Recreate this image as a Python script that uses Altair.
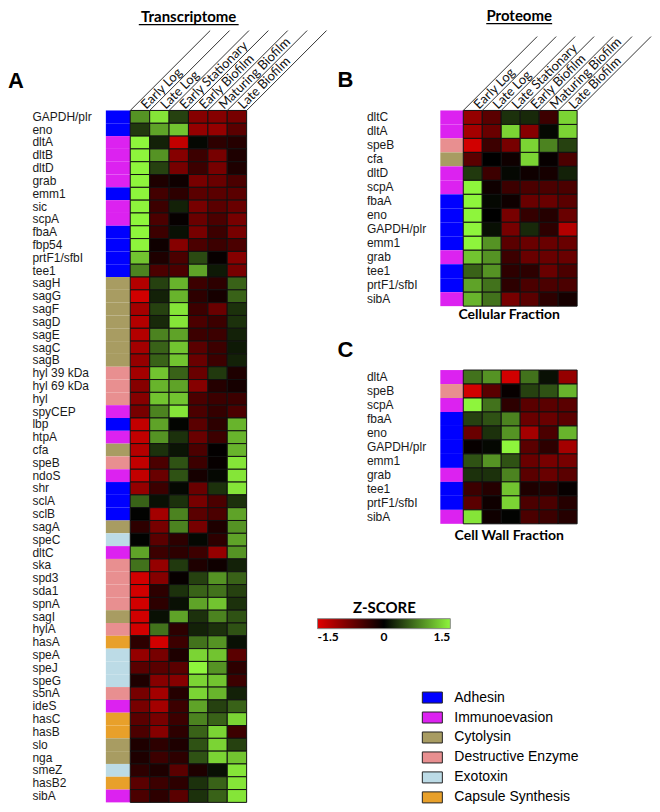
import altair as alt
import pandas as pd

# ---------------- data ----------------
conditions_T = ["Early Log", "Late Log", "Early Stationary", "Early Biofilm",
                "Maturing Biofilm", "Late Biofilm"]
conditions_P = ["Early Log", "Late Log", "Late Stationary", "Early Biofilm",
                "Maturing Biofilm", "Late Biofilm"]

categories = ["Adhesin", "Immunoevasion", "Cytolysin", "Destructive Enzyme",
              "Exotoxin", "Capsule Synthesis"]
category_colors = ["#0000ff", "#dc22f0", "#a89c62", "#e88f90", "#bcdbe6", "#e8a02a"]

# Panel A: transcriptome
genes_A = ["GAPDH/plr", "eno", "dltA", "dltB", "dltD", "grab", "emm1", "sic", "scpA",
           "fbaA", "fbp54", "prtF1/sfbI", "tee1", "sagH", "sagG", "sagF", "sagD", "sagE",
           "sagC", "sagB", "hyl 39 kDa", "hyl 69 kDa", "hyl", "spyCEP", "lbp", "htpA",
           "cfa", "speB", "ndoS", "shr", "sclA", "sclB", "sagA", "speC", "dltC", "ska",
           "spd3", "sda1", "spnA", "sagI", "hylA", "hasA", "speA", "speJ", "speG", "s5nA",
           "ideS", "hasC", "hasB", "slo", "nga", "smeZ", "hasB2", "sibA"]
cat_A = ["Adhesin", "Adhesin", "Immunoevasion", "Immunoevasion", "Immunoevasion",
         "Immunoevasion", "Adhesin", "Immunoevasion", "Immunoevasion", "Adhesin",
         "Adhesin", "Adhesin", "Adhesin", "Cytolysin", "Cytolysin", "Cytolysin",
         "Cytolysin", "Cytolysin", "Cytolysin", "Cytolysin", "Destructive Enzyme",
         "Destructive Enzyme", "Destructive Enzyme", "Immunoevasion", "Adhesin",
         "Immunoevasion", "Cytolysin", "Destructive Enzyme", "Immunoevasion", "Adhesin",
         "Adhesin", "Adhesin", "Cytolysin", "Exotoxin", "Immunoevasion",
         "Destructive Enzyme", "Destructive Enzyme", "Destructive Enzyme",
         "Destructive Enzyme", "Cytolysin", "Destructive Enzyme", "Capsule Synthesis",
         "Exotoxin", "Exotoxin", "Exotoxin", "Destructive Enzyme", "Immunoevasion",
         "Capsule Synthesis", "Capsule Synthesis", "Cytolysin", "Cytolysin", "Exotoxin",
         "Capsule Synthesis", "Immunoevasion"]
z_A = [
    [0.9, 1.4, 0.4, -0.9, -0.9, -0.8],
    [0.35, 1.0, 1.2, -1.0, -1.0, -0.6],
    [1.5, 0.2, -1.3, 0.05, -0.3, -0.25],
    [1.5, 0.9, -0.9, -0.4, -0.8, -0.2],
    [1.5, 0.4, -0.8, -0.4, -0.8, -0.2],
    [1.5, -0.2, -0.1, -0.8, -0.7, -0.5],
    [1.5, -0.45, -0.3, -0.6, -0.6, -0.6],
    [1.5, -0.4, 0.2, -0.8, -0.6, -0.7],
    [1.5, -0.5, -0.05, -0.7, -0.5, -0.8],
    [1.5, -0.4, 0.1, -0.8, -0.4, -0.8],
    [1.5, -0.1, -0.9, -0.5, -0.4, -0.5],
    [1.2, -0.2, -0.5, 0.45, -0.05, -0.9],
    [0.8, -0.5, -0.5, 1.0, 0.15, -0.8],
    [-1.2, 0.4, 1.1, -0.4, -0.3, 0.6],
    [-1.4, 0.2, 1.1, -0.3, -0.15, 0.6],
    [-1.1, 0.4, 1.4, -0.4, -0.7, 0.3],
    [-1.2, 0.25, 1.4, -0.5, -0.4, 0.3],
    [-1.2, 0.8, 1.0, -0.4, -0.4, 0.2],
    [-1.1, 0.6, 1.2, -0.6, -0.4, 0.15],
    [-1.0, 0.6, 1.2, -0.7, -0.4, 0.2],
    [-1.1, 1.2, 0.6, -0.7, 0.35, -0.2],
    [-0.9, 1.1, 1.0, -0.9, -0.25, -0.15],
    [-0.9, 1.2, 1.2, -0.5, -0.4, -0.4],
    [-0.8, 0.8, 1.4, -0.5, -0.35, -0.5],
    [-1.3, 1.0, 0.03, -0.6, -0.3, 1.1],
    [-1.3, 0.9, 0.3, -0.7, -0.4, 1.1],
    [-1.2, 0.3, 0.12, -0.5, -0.02, 1.1],
    [-1.3, -0.5, 0.5, -0.4, -0.05, 1.4],
    [-1.3, -0.7, 0.5, -0.15, 0.05, 1.4],
    [-1.0, -0.4, 0.05, -0.7, 0.3, 1.4],
    [0.6, 0.1, 0.3, -0.8, -0.5, 0.3],
    [0.02, -1.1, 0.8, -0.6, -0.5, 1.0],
    [-0.3, -0.8, 0.8, -0.8, -0.2, 0.9],
    [0.02, -0.6, -0.3, 0.05, -0.3, 1.0],
    [1.0, -0.4, -0.3, -0.4, -1.0, 0.9],
    [0.7, -1.0, 0.35, -0.2, -0.1, 0.2],
    [-1.4, -0.9, -0.05, 0.4, 0.9, 0.6],
    [-1.4, -0.3, 0.3, 0.6, 0.7, 0.4],
    [-1.4, -0.3, 0.1, 1.0, 1.2, 0.3],
    [-1.4, 0.1, 1.0, 0.3, 0.8, 0.5],
    [-1.4, 0.7, -0.3, 0.2, 0.3, 0.5],
    [-0.3, -1.4, -0.4, 0.7, 0.9, 0.1],
    [-1.0, -0.8, -0.2, 1.3, 1.2, -0.6],
    [-0.6, -0.6, -0.6, 1.5, 0.9, -0.3],
    [-0.2, -0.9, -0.9, 1.3, 1.2, -0.4],
    [-0.8, -1.1, -0.25, 1.3, 1.1, 0.2],
    [-0.8, -1.1, -0.4, 1.0, 0.4, 0.6],
    [-0.6, -0.8, -0.4, 0.8, 0.6, 1.3],
    [-0.5, -0.9, -0.3, 0.6, 1.3, -0.4],
    [-0.2, -0.3, -0.2, 0.5, 1.3, 0.4],
    [-0.2, -0.4, -0.3, 0.5, 1.3, 1.2],
    [-0.3, -0.2, -0.6, -0.2, 0.1, 1.4],
    [-0.6, -0.4, -0.3, 0.3, 0.6, 1.4],
    [-0.5, -0.3, -0.6, 0.3, 0.6, 1.4],
]

# Panel B: proteome, cellular fraction
genes_B = ["dltC", "dltA", "speB", "cfa", "dltD", "scpA", "fbaA", "eno", "GAPDH/plr",
           "emm1", "grab", "tee1", "prtF1/sfbI", "sibA"]
cat_B = ["Immunoevasion", "Immunoevasion", "Destructive Enzyme", "Cytolysin",
         "Immunoevasion", "Immunoevasion", "Adhesin", "Adhesin", "Adhesin", "Adhesin",
         "Immunoevasion", "Adhesin", "Adhesin", "Immunoevasion"]
z_B = [
    [-1.0, -0.6, 0.3, 0.25, -0.4, 1.3],
    [-1.1, -0.7, 1.3, -0.9, 0.05, 1.3],
    [-1.4, -0.4, -0.8, 1.3, 0.8, 0.4],
    [-0.6, 0.0, -0.1, 1.3, -0.05, -0.5],
    [0.35, -0.4, 0.05, -0.1, -0.15, 0.2],
    [1.5, -0.1, -0.4, -0.5, -0.5, -0.5],
    [1.5, 0.05, -0.1, -0.7, -0.7, -0.6],
    [1.5, 0.0, -0.8, -0.35, -0.25, -0.7],
    [1.5, 0.1, -0.8, 0.25, -0.3, -1.2],
    [1.5, 0.9, -0.6, -0.7, -0.7, -0.7],
    [1.2, 0.9, -0.4, -0.7, -0.7, -0.7],
    [0.6, 0.9, -0.3, -0.3, -0.7, -0.5],
    [1.0, 0.7, -0.3, -0.5, -0.5, -0.5],
    [1.1, 0.7, -0.8, -0.6, -0.3, -0.15],
]

# Panel C: proteome, cell wall fraction
genes_C = ["dltA", "speB", "scpA", "fbaA", "eno", "GAPDH/plr", "emm1", "grab", "tee1",
           "prtF1/sfbI", "sibA"]
cat_C = ["Immunoevasion", "Destructive Enzyme", "Immunoevasion", "Adhesin", "Adhesin",
         "Adhesin", "Adhesin", "Immunoevasion", "Adhesin", "Adhesin", "Immunoevasion"]
z_C = [
    [0.7, 0.9, -1.4, 0.7, 0.1, -1.0],
    [-1.4, -0.6, -0.05, 0.4, 0.5, 1.1],
    [1.5, 0.7, -0.3, -0.6, -0.6, -0.6],
    [0.4, 0.5, 0.8, -0.7, -0.7, -0.6],
    [-0.7, 0.3, 0.9, -1.1, -0.5, 1.1],
    [-0.05, 0.05, 1.5, -0.6, -0.3, -1.1],
    [0.5, 0.9, 0.5, -0.7, -0.8, -0.8],
    [0.3, 0.3, 0.8, -0.6, -0.7, -0.6],
    [-0.4, -0.25, 1.2, -0.2, -0.25, -0.05],
    [-0.6, -0.1, 1.3, -0.5, -0.5, -0.25],
    [1.4, -0.1, 0.02, -0.5, -0.4, -0.25],
]

# ---------------- shared encodings ----------------
# legend positions are relative to the first panel's plot origin
z_scale = alt.Scale(domain=[-1.5, 0, 1.5], range=["#e00000", "#000000", "#8ef53c"],
                    interpolate="rgb", clamp=True)
z_legend = alt.Legend(
    title="Z-SCORE", orient="none", legendX=212, legendY=491, direction="horizontal",
    gradientLength=133, gradientThickness=10, gradientStrokeColor="#888",
    gradientStrokeWidth=1, titleFont="Lato", titleFontSize=15, titleFontWeight="bold",
    titleColor="black", titleAnchor="middle", titlePadding=3, labelFont="Lato",
    labelFontSize=12, labelFontWeight="bold", labelColor="black", labelAlign="center",
    labelOffset=3, values=[-1.5, 0, 1.5], padding=0,
    labelExpr="replace(format(datum.value, '.1~f'), '\u2212', '-')")
cat_scale = alt.Scale(domain=categories, range=category_colors)
cat_legend = alt.Legend(
    title=None, orient="none", legendX=320, legendY=581,
    symbolType="M-1.67,-0.92H1.67V0.92H-1.67Z", symbolSize=144,
    symbolStrokeColor="#222", symbolStrokeWidth=1, symbolOpacity=1,
    labelFont="Liberation Sans", labelFontSize=14, labelColor="black", labelOffset=15,
    rowPadding=4, padding=0)


def text_mark(txt, x, y, size, font="Lato", weight="bold", align="center",
              baseline="top"):
    return alt.Chart(pd.DataFrame({"t": [txt]})).mark_text(
        align=align, baseline=baseline, font=font, fontSize=size, fontWeight=weight,
        color="black").encode(text="t:N", x=alt.value(x), y=alt.value(y))


def panel(genes, cats, z, width, height, strip_units, headers=None, line_len=80,
          extras=()):
    unit = width / (6 + strip_units)
    xs = alt.Scale(domain=[-strip_units, 6], nice=False, zero=False)
    yenc = alt.Y("gene:N", sort=genes, title=None,
                 axis=alt.Axis(labelAlign="left", labelPadding=74, ticks=False,
                               domain=False, labelFont="Liberation Sans",
                               labelFontSize=12, labelColor="#1a1a1a",
                               labelBaseline="middle", labelLimit=200))
    cell_rows = []
    for g, vals in zip(genes, z):
        for k, v in enumerate(vals):
            cell_rows.append({"gene": g, "c0": k, "c1": k + 1, "z": v})
    cells = pd.DataFrame(cell_rows)
    strip = pd.DataFrame({"gene": genes, "category": cats,
                          "s0": [-strip_units] * len(genes), "s1": [0] * len(genes)})

    strip_layer = alt.Chart(strip).mark_rect().encode(
        x=alt.X("s0:Q", scale=xs, axis=None), x2="s1:Q", y=yenc,
        fill=alt.Fill("category:N", scale=cat_scale, legend=cat_legend))
    heat_layer = alt.Chart(cells).mark_rect(stroke="#111", strokeWidth=1).encode(
        x=alt.X("c0:Q", scale=xs, axis=None), x2="c1:Q", y=yenc,
        color=alt.Color("z:Q", scale=z_scale, legend=z_legend))
    layers = [strip_layer, heat_layer]
    if headers is not None:
        hdr = pd.DataFrame({"label": headers, "cx": [k + 0.5 for k in range(6)]})
        lines = pd.DataFrame({"lx": list(range(7)),
                              "lx2": [k + line_len / unit for k in range(7)]})
        layers.append(alt.Chart(lines).mark_rule(color="#333", strokeWidth=1).encode(
            x=alt.X("lx:Q", scale=xs, axis=None), x2="lx2:Q",
            y=alt.value(0), y2=alt.value(-line_len)))
        layers.append(alt.Chart(hdr).mark_text(
            angle=315, align="left", baseline="middle", dx=5, font="Lato", fontSize=13,
            color="#111").encode(x=alt.X("cx:Q", scale=xs, axis=None), y=alt.value(0),
                                 text="label:N"))
    layers.extend(extras)
    return alt.layer(*layers).properties(width=width, height=height)


# Panel A
A = panel(genes_A, cat_A, z_A, 141, 693, 1.26, headers=conditions_T, line_len=80,
          extras=[
              text_mark("Transcriptome", 83, -101, 15),
              alt.Chart(pd.DataFrame({"a": [0]})).mark_rule(color="black", strokeWidth=1.3)
              .encode(x=alt.value(33), x2=alt.value(133), y=alt.value(-86)),
              text_mark("A", -98, -29, 22, font="Liberation Sans", align="left",
                        baseline="middle"),
          ])

# Panel B
B = panel(genes_B, cat_B, z_B, 137, 196, 1.21, headers=conditions_P, line_len=74,
          extras=[
              text_mark("Proteome", 79, -102, 15),
              alt.Chart(pd.DataFrame({"a": [0]})).mark_rule(color="black", strokeWidth=1.3)
              .encode(x=alt.value(46), x2=alt.value(112), y=alt.value(-87)),
              text_mark("B", -103, -30, 22, font="Liberation Sans", align="left",
                        baseline="middle"),
              text_mark("Cellular Fraction", 69, 205, 14, baseline="middle"),
          ])

# Panel C
C = panel(genes_C, cat_C, z_C, 137, 154, 1.21,
          extras=[
              text_mark("C", -103, -20, 22, font="Liberation Sans", align="left",
                        baseline="middle"),
              text_mark("Cell Wall Fraction", 69, 166, 14, baseline="middle"),
          ])

right = alt.vconcat(B, C, spacing=17)
chart = (alt.hconcat(A, right, spacing=10)
         .resolve_scale(color="shared", fill="shared")
         .properties(padding=0)
         .configure_view(strokeWidth=0))

chart.save("out.html", embed_options={"renderer": "svg", "actions": False})
